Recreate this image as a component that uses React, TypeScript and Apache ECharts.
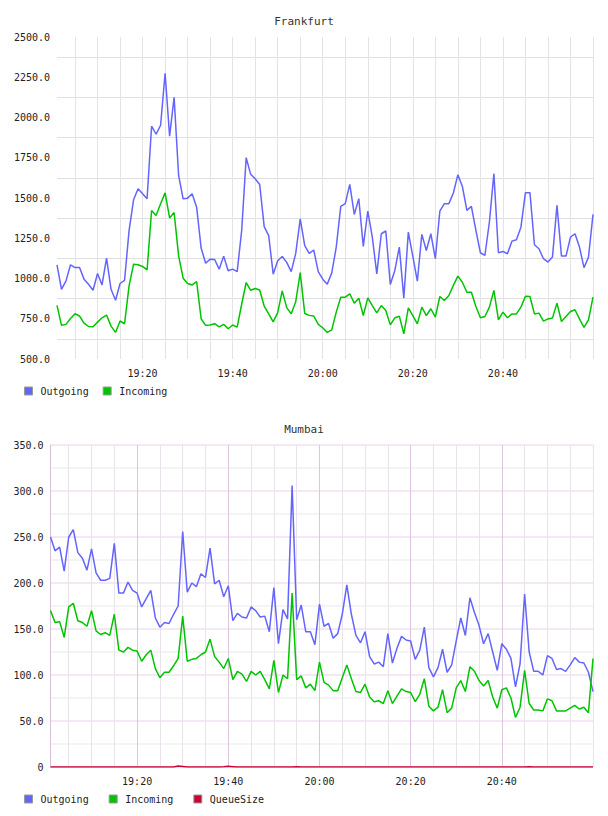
import React, { useEffect, useRef } from "react";
import * as echarts from "echarts";

// One sample per minute, 19:01 .. 21:00
const FIRST_MINUTE = 19 * 60 + 1;
const SAMPLE_COUNT = 120;
const timeLabels: string[] = Array.from({ length: SAMPLE_COUNT }, (_, i) => {
  const m = FIRST_MINUTE + i;
  return `${Math.floor(m / 60)}:${String(m % 60).padStart(2, "0")}`;
});

const frankfurtOutgoing = [
  1085, 933, 985, 1085, 1068, 1068, 996, 964, 927, 1031,
  960, 1127, 933, 865, 969, 989, 1297, 1489, 1557, 1526,
  1495, 1946, 1896, 1952, 2275, 1884, 2125, 1640, 1495, 1499,
  1526, 1443, 1189, 1095, 1120, 1118, 1058, 1139, 1048, 1058,
  1043, 1297, 1751, 1647, 1620, 1584, 1322, 1266, 1027, 1110,
  1137, 1100, 1043, 1156, 1370, 1204, 1156, 1177, 1043, 996,
  965, 1035, 1195, 1448, 1465, 1585, 1398, 1496, 1199, 1419,
  1257, 1029, 1278, 1295, 963, 1050, 1195, 878, 1288, 1137,
  983, 1274, 1174, 1278, 1123, 1419, 1465, 1465, 1531, 1645,
  1572, 1423, 1448, 1299, 1160, 1143, 1351, 1651, 1160, 1168,
  1154, 1232, 1241, 1319, 1533, 1533, 1210, 1185, 1123, 1102,
  1133, 1454, 1139, 1139, 1257, 1278, 1195, 1067, 1133, 1398,
];

const frankfurtIncoming = [
  833, 709, 715, 752, 781, 767, 723, 702, 700, 729,
  756, 773, 704, 665, 736, 719, 954, 1089, 1085, 1075,
  1054, 1422, 1391, 1464, 1532, 1376, 1410, 1141, 1002, 969,
  960, 981, 750, 709, 711, 719, 700, 715, 688, 711,
  698, 840, 975, 927, 938, 929, 829, 781, 731, 788,
  923, 819, 781, 856, 1037, 783, 771, 767, 715, 694,
  665, 681, 791, 884, 884, 905, 847, 878, 770, 880,
  832, 787, 832, 801, 712, 756, 766, 656, 818, 770,
  718, 822, 770, 812, 760, 888, 863, 894, 957, 1015,
  977, 915, 915, 826, 756, 764, 822, 926, 743, 791,
  756, 780, 780, 822, 890, 888, 780, 785, 735, 749,
  754, 847, 733, 764, 795, 806, 749, 697, 743, 884,
];

const mumbaiOutgoing = [
  250, 235, 239, 213, 250, 258, 233, 227, 214, 237,
  211, 203, 203, 205, 243, 189, 189, 201, 192, 189,
  174, 183, 192, 162, 152, 157, 156, 166, 175, 256,
  190, 200, 196, 210, 206, 238, 199, 203, 185, 197,
  159, 167, 163, 162, 174, 170, 163, 164, 147, 195,
  134, 171, 161, 306, 160, 176, 147, 147, 133, 177,
  153, 156, 140, 145, 166, 198, 166, 143, 135, 147,
  120, 112, 114, 109, 145, 113, 129, 142, 138, 137,
  117, 127, 152, 108, 98, 108, 128, 103, 111, 137,
  162, 143, 184, 168, 154, 134, 145, 125, 105, 134,
  128, 118, 87, 112, 188, 125, 104, 104, 100, 121,
  118, 106, 107, 104, 111, 119, 114, 113, 103, 82,
];

const mumbaiIncoming = [
  170, 157, 158, 141, 174, 178, 159, 157, 153, 170,
  148, 144, 146, 143, 166, 127, 125, 130, 127, 126,
  115, 122, 127, 107, 97, 103, 103, 110, 118, 164,
  115, 117, 118, 122, 125, 139, 120, 114, 107, 118,
  95, 104, 101, 93, 104, 100, 104, 95, 85, 116,
  81, 100, 96, 189, 95, 99, 86, 90, 83, 114,
  92, 89, 83, 83, 97, 111, 96, 82, 81, 90,
  76, 71, 72, 69, 83, 69, 77, 85, 82, 81,
  71, 79, 96, 66, 61, 65, 84, 59, 64, 86,
  94, 82, 109, 104, 94, 88, 94, 76, 64, 84,
  86, 75, 54, 65, 105, 69, 62, 62, 61, 74,
  72, 61, 61, 61, 64, 67, 63, 65, 59, 118,
];

const mumbaiQueueSize = [
  0, 0, 0, 0, 0, 0, 0, 0, 0, 0,
  0, 0, 0, 0, 0, 0, 0, 0, 0, 0,
  0, 0, 0, 0, 0, 0, 0, 0, 1, 0.5,
  0, 0, 0, 0, 0, 0, 0, 0, 0.3, 0.8,
  0.4, 0, 0, 0, 0, 0, 0, 0, 0, 0,
  0, 0, 0, 0, 0.3, 0, 0, 0, 0, 0,
  0, 0, 0, 0, 0, 0, 0, 0, 0, 0,
  0, 0, 0, 0, 0, 0, 0, 0, 0, 0,
  0, 0, 0, 0, 0, 0, 0, 0, 0, 0,
  0, 0, 0, 0, 0, 0, 0, 0, 0, 0,
  0, 0, 0, 0, 0, 0.3, 0, 0, 0, 0,
  0, 0, 0, 0, 0, 0, 0, 0, 0, 0,
];

const OUT_COLOR = "#6464ff";
const IN_COLOR = "#00c400";
const QUEUE_COLOR = "#cc0033";
const FONT = "DejaVu Sans Mono";

const minuteOf = (i: number) => FIRST_MINUTE + i;
const isLabelIndex = (i: number) => minuteOf(i) % 20 === 0 && i < SAMPLE_COUNT - 1;
const isMajorIndex = isLabelIndex;
const isFiveIndex = (i: number) => minuteOf(i) % 5 === 0;

const axisText = { fontFamily: FONT, fontSize: 10, color: "#222" };

export default function App() {
  const ref = useRef<HTMLDivElement>(null);

  useEffect(() => {
    if (!ref.current) return;
    const chart = echarts.init(ref.current, undefined, { renderer: "svg" });

    const lineSeries = (name: string, data: number[], color: string, x: number, y: number) => ({
      name,
      type: "line",
      xAxisIndex: x,
      yAxisIndex: y,
      data,
      symbol: "none",
      lineStyle: { color, width: 1.5 },
      itemStyle: { color },
    });

    chart.setOption({
      animation: false,
      backgroundColor: "#ffffff",
      textStyle: { fontFamily: FONT },
      title: [
        { text: "Frankfurt", left: "center", top: 11, textStyle: { fontFamily: FONT, fontSize: 11, fontWeight: "normal", color: "#333" } },
        { text: "Mumbai", left: "center", top: 419, textStyle: { fontFamily: FONT, fontSize: 11, fontWeight: "normal", color: "#333" } },
      ],
      legend: [
        {
          data: ["Outgoing", "Incoming"],
          left: 19, top: 381, icon: "rect", itemWidth: 8, itemHeight: 8, itemGap: 14,
          itemStyle: { borderColor: "#999", borderWidth: 1 },
          textStyle: { fontFamily: FONT, fontSize: 10, color: "#222", padding: [0, 0, 0, 3] },
        },
        {
          data: ["Outgoing ", "Incoming ", "QueueSize"],
          formatter: (n: string) => n.trim(),
          left: 19, top: 789, icon: "rect", itemWidth: 8, itemHeight: 8, itemGap: 20,
          itemStyle: { borderColor: "#999", borderWidth: 1 },
          textStyle: { fontFamily: FONT, fontSize: 10, color: "#222", padding: [0, 0, 0, 3] },
        },
      ],
      grid: [
        { left: 57, right: 15, top: 37, height: 322 },
        { left: 50.5, right: 15, top: 445, height: 322 },
      ],
      xAxis: [
        {
          type: "category", gridIndex: 0, data: timeLabels, boundaryGap: false,
          axisLine: { show: false }, axisTick: { show: false },
          axisLabel: { ...axisText, interval: (i: number) => isLabelIndex(i), margin: 9 },
          splitLine: { show: true, interval: (i: number) => isFiveIndex(i), lineStyle: { color: "#e4e4e4", width: 1 } },
        },
        {
          type: "category", gridIndex: 1, data: timeLabels, boundaryGap: false,
          axisLine: { show: false }, axisTick: { show: false },
          axisLabel: { ...axisText, interval: (i: number) => isLabelIndex(i), margin: 9 },
          splitLine: { show: true, interval: (i: number) => isFiveIndex(i) && !isMajorIndex(i), lineStyle: { color: "#ebe3eb", width: 1 } },
        },
        {
          type: "category", gridIndex: 1, data: timeLabels, boundaryGap: false, position: "bottom",
          axisLine: { show: false }, axisTick: { show: false }, axisLabel: { show: false },
          splitLine: { show: true, interval: (i: number) => isMajorIndex(i), lineStyle: { color: "#dcc6dc", width: 1 } },
        },
      ],
      yAxis: [
        {
          type: "value", gridIndex: 0, min: 500, max: 2500, interval: 250,
          axisLine: { show: false }, axisTick: { show: false },
          axisLabel: { ...axisText, margin: 7, formatter: (v: number) => v.toFixed(1) },
          splitLine: { show: false },
          minorTick: { show: false, splitNumber: 2 },
          minorSplitLine: { show: true, lineStyle: { color: "#e0e0e0", width: 1 } },
        },
        {
          type: "value", gridIndex: 1, min: 0, max: 350, interval: 50,
          axisLine: { show: true, lineStyle: { color: "#d8c0d8", width: 1 } }, axisTick: { show: false },
          axisLabel: { ...axisText, margin: 7, formatter: (v: number) => (v === 0 ? "0" : v.toFixed(1)) },
          splitLine: { show: true, lineStyle: { color: "#efe0ef", width: 1.5 } },
          minorTick: { show: false, splitNumber: 2 },
          minorSplitLine: { show: true, lineStyle: { color: "#f1f1f1", width: 1.5 } },
        },
      ],
      series: [
        lineSeries("Outgoing", frankfurtOutgoing, OUT_COLOR, 0, 0),
        lineSeries("Incoming", frankfurtIncoming, IN_COLOR, 0, 0),
        lineSeries("Outgoing ", mumbaiOutgoing, OUT_COLOR, 1, 1),
        lineSeries("Incoming ", mumbaiIncoming, IN_COLOR, 1, 1),
        lineSeries("QueueSize", mumbaiQueueSize, QUEUE_COLOR, 1, 1),
      ],
    });

    return () => chart.dispose();
  }, []);

  return (
    <div
      ref={ref}
      style={{ position: "absolute", left: 0, top: 0, width: 608, height: 816, background: "#fff" }}
    />
  );
}
